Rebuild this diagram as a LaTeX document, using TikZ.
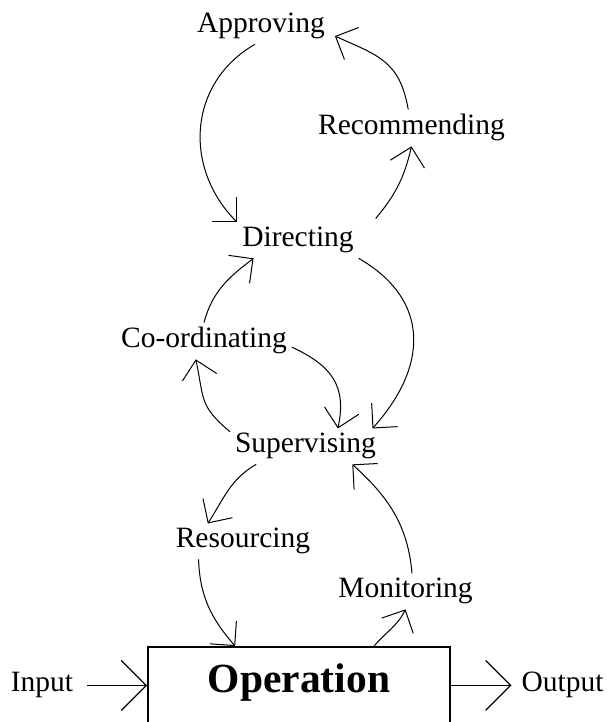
\documentclass[tikz,border=0pt]{standalone}
\usepackage{fontspec}
\setmainfont{Liberation Serif}
\usetikzlibrary{arrows.meta}
\begin{document}
\begin{tikzpicture}[x=1pt,y=1pt,
  lbl/.style={inner sep=0pt,outer sep=5pt,anchor=base,font=\fontsize{29.5}{35}\selectfont},
  arc/.style={line width=1pt,-{Straight Barb[length=17.5pt,width=35pt]}},
  flow/.style={line width=1.2pt,-{Straight Barb[length=25pt,width=50pt]}}]
\useasboundingbox (0,0) rectangle (607,722);
% the steps, placed by their base lines
\node[lbl] (approving) at (261,689) {Approving};
\node[lbl] (recommending) at (411.5,587) {Recommending};
\node[lbl] (directing) at (298,475) {Directing};
\node[lbl] (coord) at (204,374) {Co-ordinating};
\node[lbl] (supervising) at (305.5,269) {Supervising};
\node[lbl] (resourcing) at (243,174) {Resourcing};
\node[lbl] (monitoring) at (405.5,124) {Monitoring};
\node[lbl] (input) at (42,30) {Input};
\node[lbl] (output) at (562.5,30) {Output};
\node[draw,line width=1.8pt,inner sep=0pt,anchor=base,minimum width=302pt,
  text height=46pt,text depth=32pt,font=\fontsize{41.5}{48}\selectfont\bfseries]
  (operation) at (299,29) {Operation};
% upper loop
\draw[arc] (approving.251) to[out=210,in=135,looseness=1.1] (directing.north west);
\draw[arc] ([xshift=17pt,yshift=4pt]directing.north east) to[out=50,in=257] (recommending.south);
\draw[arc] (recommending.100) to[out=100,in=-24,looseness=1.2] ([xshift=5pt]approving.-8);
% middle loop
\draw[arc] (directing.south east) to[out=-30,in=48,looseness=1.25] (supervising.15);
\draw[arc] (coord.-4) to[out=-25,in=78,looseness=1.2] (supervising.29);
\draw[arc] (supervising.169) to[out=140,in=-78,looseness=1.3] (coord.246);
\draw[arc] (coord.north) to[out=75,in=217] (directing.202);
% lower loop
\draw[arc] (supervising.200) to[out=210,in=57] (resourcing.153);
\draw[arc] (resourcing.202) to[out=-88,in=131] (operation.148);
\draw[arc] (operation.28) to[out=50,in=244] (monitoring.south);
\draw[arc] (monitoring.70) to[out=95,in=-42] (supervising.-21);
% in and out
\draw[flow] ([xshift=9pt]input.east) -- (input.east -| operation.west);
\draw[flow] (operation.east |- output.west) -- ([xshift=-5pt]output.west);
\end{tikzpicture}
\end{document}
